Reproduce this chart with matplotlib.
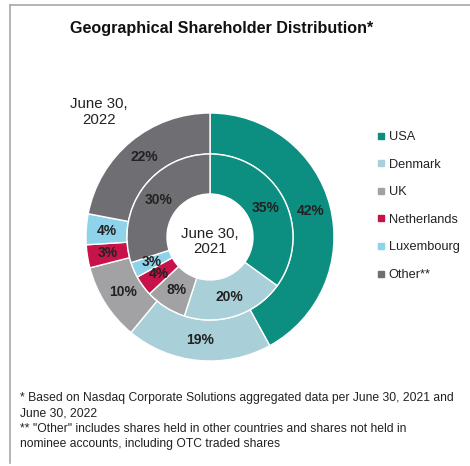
import matplotlib
matplotlib.use("Agg")
import matplotlib.pyplot as plt
from matplotlib.lines import Line2D
import numpy as np

plt.rcParams['font.family'] = ['Liberation Sans', 'DejaVu Sans']

categories = ["USA", "Denmark", "UK", "Netherlands", "Luxembourg", "Other**"]
values_2021 = [35, 20, 8, 4, 3, 30]
values_2022 = [42, 19, 10, 3, 4, 22]
colors = ["#0c8f80", "#a9cfd8", "#a2a2a4", "#c8124a", "#8ed3ea", "#6f6f73"]

W, H = 470, 466
fig = plt.figure(figsize=(W / 100, H / 100), dpi=100)

cx, cy, R = 210, 237, 124
ax = fig.add_axes([(cx - R) / W, (H - cy - R) / H, 2 * R / W, 2 * R / H])

r_outer = 1.0
r_mid = 83 / R
r_hole = 43 / R

w_out, _ = ax.pie(values_2022, radius=r_outer, colors=colors, startangle=90,
                  counterclock=False,
                  wedgeprops=dict(width=r_outer - r_mid, edgecolor="white", linewidth=1))
w_in, _ = ax.pie(values_2021, radius=r_mid, colors=colors, startangle=90,
                 counterclock=False,
                 wedgeprops=dict(width=r_mid - r_hole, edgecolor="white", linewidth=1))
ax.set_xlim(-1, 1)
ax.set_ylim(-1, 1)
ax.axis("off")

def label_ring(wedges, vals, rad):
    for w, v in zip(wedges, vals):
        ang = np.deg2rad((w.theta1 + w.theta2) / 2)
        ax.text(rad * np.cos(ang), rad * np.sin(ang), f"{v}%", ha="center", va="center",
                fontsize=10, fontweight="bold", color="#222222")

label_ring(w_out, values_2022, (r_outer + r_mid) / 2)
label_ring(w_in, values_2021, (r_mid + r_hole) / 2)

ax.text(0, -0.036, "June 30,\n2021", ha="center", va="center", fontsize=10.8,
        color="#222222", linespacing=1.15)

fig.text(99 / W, 1 - 112 / H, "June 30,\n2022", ha="center", va="center",
         fontsize=10.8, color="#222222", linespacing=1.15)

fig.text(222 / W, 1 - 28 / H, "Geographical Shareholder Distribution*", ha="center",
         va="center", fontsize=11.6, fontweight="bold", color="#111111")

handles = [Line2D([0], [0], marker="s", linestyle="none", markersize=5,
                  markerfacecolor=c, markeredgecolor=c) for c in colors]
fig.legend(handles, categories, loc="upper left", bbox_to_anchor=(372 / W, 1 - 126 / H),
           frameon=False, fontsize=9.2, handlelength=0.6, handletextpad=0.3,
           labelspacing=1.22, borderaxespad=0, labelcolor="#222222")

foot = ("* Based on Nasdaq Corporate Solutions aggregated data per June 30, 2021 and\n"
        "June 30, 2022\n"
        "** \"Other\" includes shares held in other countries and shares not held in\n"
        "nominee accounts, including OTC traded shares")
fig.text(20 / W, 1 - 392 / H, foot, ha="left", va="top", fontsize=8.7,
         color="#222222", linespacing=1.38)

# frame lines (top and left)
fig.add_artist(Line2D([10 / W, 1], [1 - 5 / H, 1 - 5 / H], color="#a8a8a8", linewidth=1.2))
fig.add_artist(Line2D([10 / W, 10 / W], [1 - 5 / H, 1 - 463 / H], color="#a8a8a8", linewidth=1.2))

fig.savefig("out.png", dpi=100)
